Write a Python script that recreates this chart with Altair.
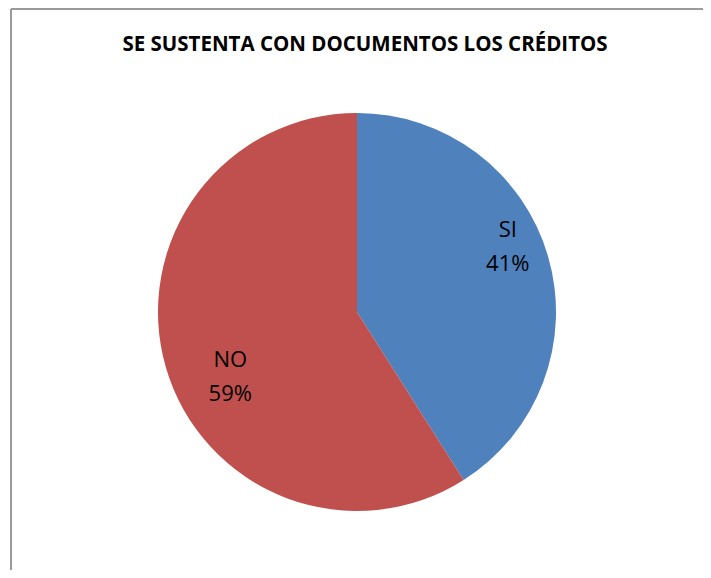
import altair as alt
import pandas as pd
import math

categories = ["SI", "NO"]
values = [41, 59]
colors = ["#4F81BD", "#C0504D"]
title_text = "SE SUSTENTA CON DOCUMENTOS LOS CRÉDITOS"

df = pd.DataFrame({"cat": categories, "val": values, "idx": [0, 1]})

CX, CY = 346, 303
LABEL_FONT = "Open Sans"

theta_scale = alt.Scale(domain=[0, sum(values)], range=[0, 2 * math.pi])

pie = alt.Chart(df).mark_arc(radius=199).encode(
    theta=alt.Theta("val:Q", stack=True),
    order=alt.Order("idx:Q"),
    color=alt.Color("cat:N", scale=alt.Scale(domain=categories, range=colors), legend=None),
    x=alt.value(CX),
    y=alt.value(CY),
)

lab_base = (
    alt.Chart(df)
    .transform_window(cum="sum(val)", sort=[alt.SortField("idx")])
    .transform_calculate(mid="datum.cum - datum.val / 2",
                         label="[datum.cat, datum.val + '%']")
)


def label_layer(cat, r, dy):
    return lab_base.transform_filter(alt.datum.cat == cat).mark_text(
        radius=r, dy=dy, font=LABEL_FONT, fontSize=22, lineHeight=34,
        align="center", baseline="middle", color="black",
    ).encode(
        theta=alt.Theta("mid:Q", scale=theta_scale, stack=None),
        text="label:N",
        x=alt.value(CX),
        y=alt.value(CY),
    )


lab_si = label_layer("SI", 157, -38)
lab_no = label_layer("NO", 132, 11)

title = alt.Chart(pd.DataFrame({"t": [title_text]})).mark_text(
    font=LABEL_FONT, fontSize=20.5, fontWeight="bold", align="center",
    baseline="alphabetic", color="black",
).encode(text="t:N", x=alt.value(354), y=alt.value(42))

frame = pd.DataFrame({"a": [0]})
border_left = alt.Chart(frame).mark_rule(stroke="#9a9a9a", strokeWidth=2).encode(
    x=alt.value(0), y=alt.value(0), y2=alt.value(561))
border_top = alt.Chart(frame).mark_rule(stroke="#9a9a9a", strokeWidth=2).encode(
    x=alt.value(0), x2=alt.value(692), y=alt.value(0))

chart = alt.layer(border_left, border_top, pie, lab_si, lab_no, title).properties(
    width=692, height=561, autosize="none", background="white",
    padding={"left": 3, "top": 1, "right": 0, "bottom": 0},
).configure_view(strokeWidth=0, stroke="transparent")

chart.save("out.html", embed_options={"renderer": "svg", "actions": False})
